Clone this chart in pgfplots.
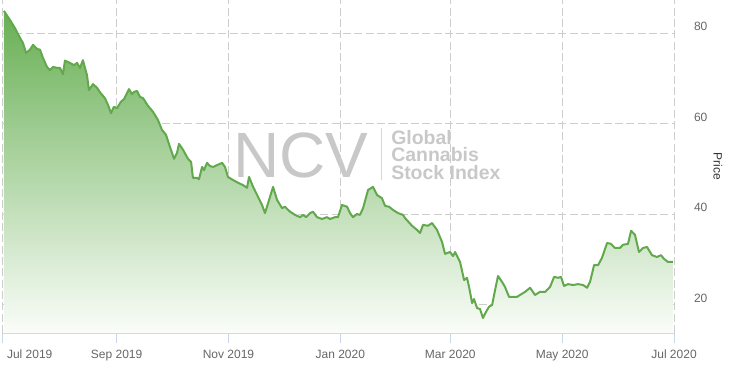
\documentclass[border=0pt]{standalone}
\usepackage{pgfplots}
\pgfplotsset{compat=1.18}
\usepackage{pgfplotstable}
\usepackage{fontspec}
\setmainfont{Liberation Sans}
\definecolor{linec}{RGB}{98,168,76}
\definecolor{filltop}{RGB}{104,175,84}
\definecolor{fillbot}{RGB}{250,253,249}
\definecolor{gridc}{RGB}{205,205,205}
\definecolor{axisc}{RGB}{204,214,235}
\definecolor{labelc}{RGB}{102,102,102}
\definecolor{wmark}{RGB}{200,200,200}
\definecolor{wbar}{RGB}{215,215,215}

% day (since 1 Jul 2019), price
\pgfplotstableread{
d p
0.5 85.0
3.8 83.0
6.5 81.2
9.3 79.0
10.9 77.9
12.6 75.7
14.7 76.4
16.4 77.5
18.5 76.6
20.2 76.4
21.8 74.6
24.0 72.6
25.6 71.9
27.3 72.6
29.5 72.4
31.1 72.4
32.7 71.0
33.8 74.0
36.5 73.5
38.7 73.0
40.4 73.5
42.0 72.4
43.6 74.1
45.8 70.8
46.9 67.5
49.1 68.8
51.3 68.0
52.9 67.0
55.6 65.7
57.3 64.2
58.9 62.4
60.5 63.8
62.2 63.5
64.3 64.9
66.0 65.5
68.7 67.7
70.4 66.6
71.5 67.1
73.1 67.3
74.7 66.0
76.4 65.7
79.1 64.0
81.8 62.7
84.5 60.9
86.7 58.7
88.9 57.6
91.1 54.9
93.3 52.3
94.9 53.6
96.0 55.6
98.2 54.3
100.9 52.3
102.6 51.6
103.6 48.1
105.8 48.1
106.9 47.8
108.6 50.5
109.6 49.8
111.3 51.4
112.9 50.7
114.6 50.5
116.7 50.9
119.5 51.4
121.1 50.5
122.7 48.3
125.5 47.6
128.2 47.0
130.9 46.5
133.1 45.9
134.2 48.3
136.4 46.1
139.1 43.9
141.3 42.1
142.9 40.3
144.6 42.5
147.3 46.1
149.5 43.2
152.2 41.4
153.8 41.7
156.6 40.6
159.3 39.9
162.0 39.4
163.7 39.9
165.3 39.4
167.5 40.3
169.1 40.6
171.3 39.4
174.0 39.0
176.7 39.4
178.4 39.0
181.1 39.4
182.7 39.4
184.9 42.1
187.7 41.7
189.3 40.3
190.9 39.4
193.1 40.1
194.7 39.9
196.4 41.4
199.1 45.4
201.8 46.1
204.0 44.3
206.7 43.6
208.4 41.9
210.6 41.7
212.7 41.0
215.5 40.3
218.2 39.9
219.3 39.2
223.1 37.5
225.8 36.6
227.5 35.9
229.1 37.7
231.8 37.5
234.0 38.1
236.7 36.6
239.5 33.9
241.1 31.3
243.8 31.7
245.5 30.8
246.6 31.7
249.3 29.5
251.5 25.5
253.1 26.0
254.2 24.0
255.9 20.4
256.9 21.3
258.6 19.3
260.2 19.1
261.8 17.1
263.5 18.5
265.1 19.6
266.8 20.0
268.4 23.3
270.0 26.4
272.2 25.1
273.8 24.0
276.0 21.8
278.2 21.8
280.4 21.8
282.0 22.2
284.8 22.9
287.5 23.8
290.2 22.2
292.9 22.9
295.7 22.9
298.4 24.0
300.6 26.2
302.8 26.0
304.4 26.2
306.0 24.2
308.2 24.6
310.9 24.4
313.7 24.6
316.4 24.4
318.6 23.8
320.2 25.1
322.4 28.8
324.6 28.8
326.7 30.4
329.5 33.7
331.6 33.5
333.8 32.6
336.5 32.6
338.2 33.3
340.9 33.5
342.6 36.4
344.7 35.5
346.9 31.7
349.1 32.6
351.3 32.8
354.0 31.0
356.7 30.6
358.9 31.0
360.5 30.2
362.7 29.5
365.4 29.5
}\pricedata

\begin{document}
\begin{tikzpicture}
% watermark
\node[anchor=base west, inner sep=0pt, text=wmark, font=\fontsize{48}{48}\selectfont] at (172.5pt,116.25pt) {NCV};
\draw[wbar, line width=1.1pt] (284pt,114.75pt) -- (284pt,153.75pt);
\node[anchor=north west, inner sep=0pt, align=left, text=wmark, font=\fontsize{14.6}{13.2}\bfseries\selectfont] at (291pt,152.3pt) {Global\\Cannabis\\Stock Index};
\begin{axis}[
  scale only axis,
  width=503.25pt, height=249.75pt,
  xmin=0, xmax=366, ymin=13.8, ymax=87.4,
  axis x line*=bottom, axis y line*=right,
  x axis line style={draw=axisc, line width=0.75pt},
  y axis line style={draw=none},
  xtick={62,123,184,244,305,366},
  xticklabels={Sep 2019,Nov 2019,Jan 2020,Mar 2020,May 2020,Jul 2020},
  extra x ticks={0},
  extra x tick labels={Jul 2019},
  extra x tick style={xticklabel style={anchor=north west, xshift=-0.5pt}},
  ytick={20,40,60,80},
  grid=major,
  major grid style={draw=gridc, line width=0.75pt, dash pattern=on 6pt off 2.5pt},
  tick align=outside,
  major tick length=7.5pt,
  xtick style={draw=axisc, line width=0.75pt},
  ytick style={draw=none},
  yticklabel pos=right,
  tick label style={font=\fontsize{9}{10}\selectfont, text=labelc},
  xticklabel style={yshift=-1.5pt},
  yticklabel style={anchor=west, xshift=4pt, yshift=5pt},
  /pgf/number format/assume math mode=true,
  every axis y label/.style={at={(rel axis cs:1,0.5)}, anchor=center, xshift=33pt, rotate=-90, font=\fontsize{9}{10}\selectfont, text={rgb,255:red,51;green,51;blue,51}},
  ylabel={Price},
  clip=true,
]
\addplot[draw=none, top color=filltop, bottom color=fillbot, forget plot] table[x=d,y=p]{\pricedata} \closedcycle;
\addplot[linec, line width=1.5pt, line join=round, mark=none] table[x=d,y=p]{\pricedata};
\end{axis}
\pgfresetboundingbox
\path (-2.25pt,-27.75pt) rectangle (550.5pt,249.75pt);
\end{tikzpicture}
\end{document}
